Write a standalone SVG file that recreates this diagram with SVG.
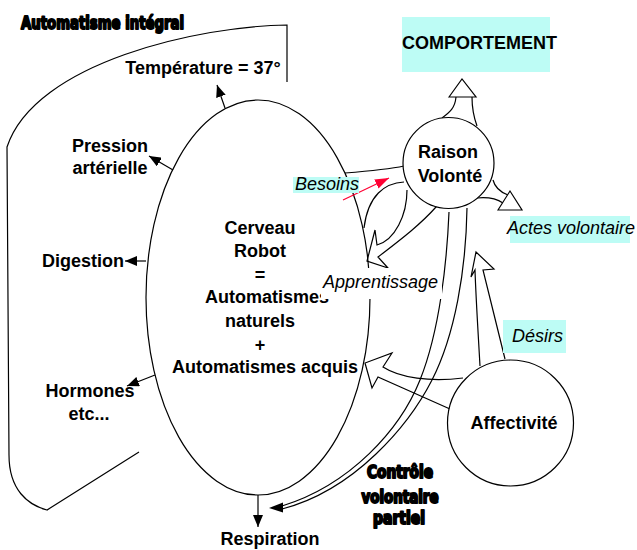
<svg xmlns="http://www.w3.org/2000/svg" width="637" height="550" viewBox="0 0 637 550">
<style>
.b{font-family:"Liberation Sans",Arial,sans-serif;font-weight:bold;font-size:18px;fill:#000}
.i{font-family:"Liberation Sans",Arial,sans-serif;font-style:italic;font-size:18px;fill:#000}
.h{font-family:"DejaVu Sans Condensed","DejaVu Sans",sans-serif;font-weight:bold;font-stretch:condensed;fill:#000;stroke:#000;stroke-width:1.9;stroke-linejoin:round}
.ln{fill:none;stroke:#000;stroke-width:1.2}
.hw{fill:#fff;stroke:#000;stroke-width:1.2;stroke-linejoin:miter}
.cy{fill:#bdfcf5}
</style>
<defs>
<marker id="ah" markerUnits="userSpaceOnUse" markerWidth="12" markerHeight="10" refX="12" refY="5" orient="auto">
<path d="M0,0 L12,5 L0,10 z" fill="#000"/>
</marker>
<marker id="ahr" markerUnits="userSpaceOnUse" markerWidth="14" markerHeight="10" refX="14" refY="5" orient="auto">
<path d="M0,0 L14,5 L0,10 z" fill="#ff0033"/>
</marker>
</defs>

<g id="frame">
<path class="ln" d="M287,82 L287,25 C200,26 35,62 7,147 L9,455 C9,490 28,505 47,510 L139,452"/>
<text class="h" x="21" y="29" font-size="18" textLength="163" lengthAdjust="spacingAndGlyphs">Automatisme intégral</text>
</g>

<g id="cerveau">
<ellipse class="ln" cx="258" cy="297.5" rx="112" ry="197.5"/>
<text class="b" text-anchor="middle" x="260" y="234">Cerveau</text>
<text class="b" text-anchor="middle" x="260" y="257">Robot</text>
<text class="b" text-anchor="middle" x="260" y="281">=</text>
<text class="b" text-anchor="middle" x="267" y="303">Automatismes</text>
<text class="b" text-anchor="middle" x="260" y="327">naturels</text>
<text class="b" text-anchor="middle" x="260" y="351">+</text>
<text class="b" text-anchor="middle" x="265" y="373">Automatismes acquis</text>
</g>

<g id="connectors">
<line class="ln" x1="225" y1="108" x2="217" y2="85" marker-end="url(#ah)"/>
<line class="ln" x1="173" y1="170" x2="149" y2="156" marker-end="url(#ah)"/>
<line class="ln" x1="146" y1="261" x2="125" y2="261" marker-end="url(#ah)"/>
<line class="ln" x1="155" y1="375" x2="127" y2="386" marker-end="url(#ah)"/>
<line class="ln" x1="258" y1="495" x2="258" y2="527" marker-end="url(#ah)"/>
<path class="ln" d="M345,173 C370,171 390,169 404,166"/>
<path class="ln" d="M404,182 C385,183 368,195 364,228"/>
<line x1="343" y1="200" x2="389" y2="178" stroke="#ff0033" stroke-width="1.2" marker-end="url(#ahr)"/>
<path class="ln" d="M407,190 C407,215 395,240 377,245 L375,230 L367,261 L388,268 L378,257 C400,240 420,225 436,207 L440,206"/>
<path class="ln" d="M442,118 C450,112 455,108 456,97"/>
<path class="ln" d="M477,126 C473,115 472,105 472,97"/>
<polygon class="hw" points="449,97 462,79 476,97"/>
<path class="ln" d="M493,180 C495,188 500,192 508,195"/>
<path class="ln" d="M477,198 C487,197 497,199 503,203"/>
<polygon class="hw" points="498,210 510,191 522,210"/>
<path class="ln" d="M449,212 C447,260 440,330 420,380 S350,485 282,506"/>
<path class="ln" d="M467,208 C466,270 455,335 432,380 S355,490 282,509"/>
<polygon points="269,508 283,502.5 283,512.5" fill="#000"/>
<path class="ln" d="M480,366 C478,330 476,300 475,270 L471,277 L476,252 L494,269 L483,270 L505,359"/>
<path class="ln" d="M463,378 C430,382 400,378 383,367 L392,353 L365,363 L372,388 L378,377 L450,409"/>
</g>

<g id="comportement">
<rect class="cy" x="402" y="17" width="148" height="55"/>
<text class="b" x="402" y="49" font-size="18.5">COMPORTEMENT</text>
</g>

<g id="raison">
<circle cx="448.5" cy="163" r="45.5" fill="#fff" stroke="#000" stroke-width="1.2"/>
<text class="b" text-anchor="middle" x="448" y="158">Raison</text>
<text class="b" text-anchor="middle" x="450" y="182">Volonté</text>
</g>

<g id="affectivite">
<circle cx="510.5" cy="423" r="63" fill="#fff" stroke="#000" stroke-width="1.2"/>
<text class="b" text-anchor="middle" x="514" y="429">Affectivité</text>
</g>

<g id="temperature"><text class="b" text-anchor="middle" x="203" y="74">Température = 37°</text></g>
<g id="pression">
<text class="b" text-anchor="middle" x="110" y="152">Pression</text>
<text class="b" text-anchor="middle" x="110" y="174">artérielle</text>
</g>
<g id="digestion"><text class="b" x="42" y="267">Digestion</text></g>
<g id="hormones">
<text class="b" text-anchor="middle" x="90" y="397">Hormones</text>
<text class="b" text-anchor="middle" x="89" y="420">etc...</text>
</g>
<g id="respiration"><text class="b" text-anchor="middle" x="270" y="545">Respiration</text></g>

<g id="besoins">
<rect class="cy" x="293" y="177" width="66" height="16"/>
<text class="i" x="295" y="190">Besoins</text>
</g>
<g id="apprentissage">
<rect fill="#fff" x="321" y="268" width="121" height="31"/>
<text class="i" x="323" y="288">Apprentissage</text>
</g>
<g id="actes">
<rect class="cy" x="510" y="216" width="120" height="27"/>
<text class="i" x="507" y="234">Actes volontaire</text>
</g>
<g id="desirs">
<rect class="cy" x="503" y="320" width="63" height="33"/>
<text class="i" x="512" y="342">Désirs</text>
</g>

<g id="controle">
<text class="h" text-anchor="middle" x="400" y="478" font-size="17" textLength="66" lengthAdjust="spacingAndGlyphs">Contrôle</text>
<text class="h" text-anchor="middle" x="400" y="503" font-size="17" textLength="77" lengthAdjust="spacingAndGlyphs">volontaire</text>
<text class="h" text-anchor="middle" x="399" y="524" font-size="17" textLength="52" lengthAdjust="spacingAndGlyphs">partiel</text>
</g>
</svg>
